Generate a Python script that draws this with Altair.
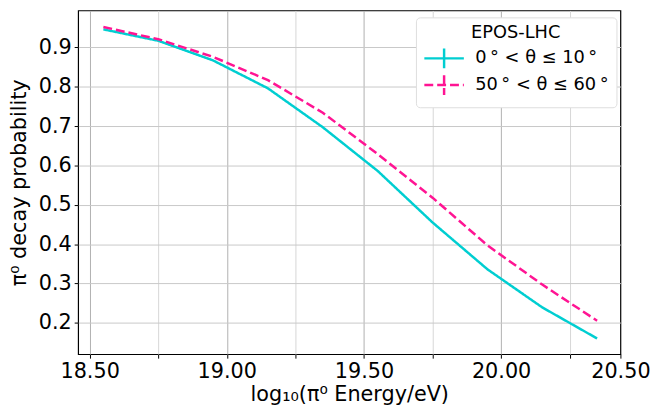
import altair as alt
import pandas as pd

energy = [18.55, 18.75, 18.95, 19.15, 19.35, 19.55, 19.75, 19.95, 20.15, 20.35]
prob_0_10 = [0.946, 0.917, 0.867, 0.796, 0.697, 0.586, 0.455, 0.336, 0.239, 0.160]
prob_50_60 = [0.952, 0.921, 0.876, 0.817, 0.734, 0.629, 0.518, 0.397, 0.297, 0.205]
series_names = ["0\u2009° < θ ≤ 10\u2009°", "50\u2009° < θ ≤ 60\u2009°"]
series_colors = ["#00CED1", "#FF1493"]
x_ticks = [18.5, 18.75, 19.0, 19.25, 19.5, 19.75, 20.0, 20.25, 20.435]
y_ticks = [0.2, 0.3, 0.4, 0.5, 0.6, 0.7, 0.8, 0.9]

rows = []
for e, v in zip(energy, prob_0_10):
    rows.append({"energy": e, "prob": v, "series": series_names[0]})
for e, v in zip(energy, prob_50_60):
    rows.append({"energy": e, "prob": v, "series": series_names[1]})
df = pd.DataFrame(rows)

FONT = "DejaVu Sans"

legend = alt.Legend(
    title="EPOS-LHC",
    orient="none",
    legendX=342,
    legendY=7,
    titleAnchor="middle",
    titleAlign="center",
    titleFontSize=18,
    titleFontWeight="normal",
    titleFont=FONT,
    titleColor="#000000",
    titlePadding=5,
    labelFontSize=18,
    labelFont=FONT,
    labelColor="#000000",
    labelOffset=20,
    labelLimit=300,
    symbolType="M-2,0H2M0,-1V1",
    symbolSize=400,
    symbolOffset=10,
    symbolStrokeWidth=2.5,
    symbolFillColor="transparent",
    rowPadding=-5,
    padding=7,
    fillColor="#ffffff",
    strokeColor="#dddddd",
    cornerRadius=4,
)

chart = (
    alt.Chart(df)
    .mark_line(strokeWidth=2.5)
    .encode(
        x=alt.X(
            "energy:Q",
            scale=alt.Scale(domain=[18.458, 20.435], nice=False, zero=False),
            axis=alt.Axis(
                title="log₁₀(π⁰ Energy/eV)",
                values=x_ticks,
                labelExpr="datum.value > 20.4 ? '20.50' : (abs(datum.value*2 - round(datum.value*2)) > 0.01 ? '' : format(datum.value, '.2f'))",
                gridColor={
                    "condition": [
                        {"test": "datum.value > 20.4", "value": "transparent"},
                        {"test": "abs(datum.value*2 - round(datum.value*2)) > 0.01", "value": "#d6d6d6"},
                    ],
                    "value": "#b0b0b0",
                },
                labelFlush=False,
                labelOverlap=False,
            ),
        ),
        y=alt.Y(
            "prob:Q",
            scale=alt.Scale(domain=[0.12, 0.994], nice=False, zero=False),
            axis=alt.Axis(
                title="π⁰ decay probability",
                values=y_ticks,
                format=".1f",
                gridColor="#c8c8c8",
            ),
        ),
        color=alt.Color(
            "series:N",
            scale=alt.Scale(domain=series_names, range=series_colors),
            legend=legend,
        ),
        strokeDash=alt.StrokeDash(
            "series:N",
            scale=alt.Scale(domain=series_names, range=[[1, 0], [9, 4]]),
            legend=legend,
        ),
    )
    .properties(
        width=549,
        height=348,
        autosize=alt.AutoSizeParams(type="none"),
        padding={"left": 71, "top": 0, "right": 34, "bottom": 55},
    )
    .configure_view(stroke="#000000", strokeWidth=1.2)
    .configure_axis(
        labelFont=FONT,
        titleFont=FONT,
        labelFontSize=21,
        titleFontSize=21,
        titleFontWeight="normal",
        labelColor="#000000",
        titleColor="#000000",
        tickColor="#000000",
        tickSize=4,
        labelPadding=3,
        domain=False,
        grid=True,
        gridWidth=1,
    )
    .configure_axisX(titlePadding=2)
    .configure_axisY(titlePadding=9)
)

chart.save("out.html", embed_options={"renderer": "svg", "actions": False})
